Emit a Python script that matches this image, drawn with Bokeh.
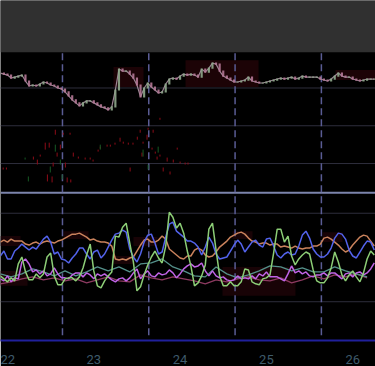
from bokeh.plotting import figure
from bokeh.models import Range1d, LinearAxis, FixedTicker, Span, BoxAnnotation
from bokeh.embed import file_html
from bokeh.resources import INLINE

# ---------------- data ----------------
# hourly samples starting at day 21 + 22h (x in days)
start_day = 22 - 2 / 24
step_day = 1 / 24

price = [57, 56, 55, 52, 53, 54, 55, 49, 44, 45, 44, 46, 48, 47, 45, 44, 42, 41, 38, 34,
         30, 27, 24, 27, 29, 29, 27, 25, 23, 22, 20, 23, 40, 61, 59, 59, 56, 52, 45, 33,
         42, 47, 43, 40, 37, 38, 46, 51, 52, 51, 54, 56, 55, 56, 55, 53, 61, 58, 62, 67,
         66, 59, 54, 52, 50, 48, 48, 49, 50, 53, 49, 48, 47, 47, 48, 49, 50, 51, 52, 51,
         52, 53, 51, 52, 54, 53, 53, 53, 53, 51, 50, 49, 51, 54, 57, 54, 53, 53, 51, 50,
         49, 50, 51, 51, 51]

osc_blue = [43, 48, 40, 40, 48, 51, 55, 52, 49, 52, 50, 55, 60, 63, 57, 45, 47, 40, 39, 36,
            41, 45, 51, 51, 45, 40, 47, 49, 41, 45, 52, 59, 65, 66, 69, 67, 50, 42, 37, 45,
            57, 64, 65, 56, 45, 47, 62, 75, 77, 68, 65, 62, 58, 58, 56, 52, 44, 52, 62, 56,
            45, 40, 41, 42, 48, 54, 59, 55, 47, 52, 57, 59, 54, 52, 60, 61, 53, 44, 41, 45,
            47, 44, 45, 53, 64, 68, 61, 50, 45, 42, 42, 45, 51, 61, 66, 65, 60, 49, 43, 41,
            47, 53, 58, 57, 49]

osc_orange = [57, 59, 57, 60, 58, 58, 58, 55, 54, 56, 57, 55, 57, 58, 57, 56, 58, 59, 61, 63,
              65, 65, 66, 64, 62, 59, 60, 58, 57, 57, 56, 53, 40, 39, 40, 39, 41, 42, 48, 54,
              59, 60, 57, 57, 59, 63, 60, 50, 47, 44, 41, 40, 43, 43, 49, 51, 49, 44, 42, 43,
              47, 52, 55, 58, 62, 64, 66, 67, 65, 61, 58, 57, 55, 56, 56, 54, 55, 55, 52, 53,
              52, 51, 53, 51, 50, 51, 51, 53, 53, 55, 61, 62, 60, 57, 54, 50, 47, 49, 54, 58,
              62, 64, 63, 58, 53]

osc_green = [23, 20, 17, 21, 18, 35, 42, 27, 19, 19, 25, 21, 25, 42, 46, 23, 14, 14, 20, 21,
             21, 18, 22, 31, 44, 55, 28, 13, 11, 18, 23, 27, 63, 62, 72, 76, 56, 37, 8, 12,
             24, 34, 42, 48, 41, 36, 53, 87, 82, 71, 76, 66, 48, 33, 13, 16, 23, 34, 70, 76,
             49, 23, 13, 13, 17, 13, 13, 17, 30, 29, 17, 15, 14, 20, 21, 24, 46, 70, 70, 57,
             63, 43, 34, 40, 44, 47, 45, 29, 18, 16, 16, 21, 31, 47, 37, 24, 18, 24, 28, 22,
             17, 26, 40, 48, 44]

osc_purple = [20, 18, 23, 17, 21, 20, 37, 40, 35, 27, 29, 25, 28, 23, 25, 31, 25, 21, 21, 20,
              24, 26, 26, 22, 26, 24, 20, 25, 23, 25, 22, 19, 17, 20, 21, 18, 21, 26, 30, 20,
              25, 28, 23, 22, 26, 24, 25, 29, 26, 21, 25, 30, 33, 35, 32, 33, 36, 28, 23, 28,
              23, 21, 22, 19, 18, 19, 23, 20, 21, 20, 23, 20, 25, 23, 27, 22, 22, 22, 20, 18,
              25, 33, 26, 28, 25, 27, 23, 22, 24, 24, 26, 23, 26, 26, 23, 20, 25, 26, 22, 26,
              27, 24, 26, 30, 36]

# 3-hourly samples
osc_teal = [25, 22, 25, 30, 27, 23, 28, 23, 27, 32, 28, 32, 27, 35, 36, 40, 32, 28, 23, 22,
            32, 25, 21, 24, 28, 33, 32, 28, 31, 27, 27, 32, 28, 25, 22]
osc_pink = [15, 17, 20, 22, 19, 21, 18, 20, 16, 19, 22, 18, 17, 24, 21, 19, 22, 20, 18, 15,
            19, 17, 20, 22, 19, 18, 21, 16, 19, 23, 20, 24, 22, 25, 21]

# small spread candles (hour offset, high, low)
spread_up_h = [0.8, 1.7, 9.2, 10.3, 11.1, 12.5, 13.1, 13.6, 14.4, 14.7, 15.3, 15.8, 16.7, 17.5,
               18.1, 18.6, 19.4, 19.6, 20.3, 21.7, 23.6, 25.0, 25.8, 27.2, 27.8, 29.7, 30.6,
               31.9, 33.3, 34.2, 35.6, 36.1, 36.9, 38.1, 38.9, 39.4, 39.7, 40.8, 41.1, 42.2,
               42.5, 43.1, 43.6, 44.4, 45.3, 46.4, 47.2, 48.1, 49.2, 50.0, 51.4, 52.2, 44.4]
spread_up_hi = [32, 32, 43, 40, 45, 57, 25, 57, 23, 37, 70, 47, 55, 67, 37, 22, 67, 20, 47, 43,
                42, 42, 40, 50, 53, 55, 55, 57, 62, 58, 57, 32, 57, 63, 70, 47, 58, 65, 72, 52,
                70, 48, 43, 45, 32, 42, 28, 40, 52, 38, 37, 37, 82]
spread_up_lo = [30, 30, 40, 35, 43, 50, 18, 52, 17, 33, 65, 43, 50, 65, 32, 17, 65, 17, 43, 41,
                40, 40, 38, 48, 51, 53, 53, 55, 58, 56, 55, 28, 55, 60, 67, 43, 56, 60, 70, 50,
                67, 46, 40, 43, 28, 38, 25, 37, 50, 36, 35, 35, 80]
spread_dn_h = [6.9, 7.8, 13.9, 15.3, 16.7, 17.2, 27.8, 39.7, 41.1, 43.9]
spread_dn_hi = [42, 23, 33, 55, 40, 25, 55, 50, 35, 53]
spread_dn_lo = [40, 18, 27, 48, 35, 20, 50, 43, 30, 47]

# shaded zones (day start, day end, panel top, panel bottom)
price_zone_x0 = [23.228, 24.063, 25.801]
price_zone_x1 = [23.576, 24.909, 26.264]
price_zone_top = [63, 70, 60]
price_zone_bot = [43, 43, 50]
osc_zone_x0 = [21.919, 22.649, 23.228, 23.460, 24.607, 25.650, 21.919, 24.491]
osc_zone_x1 = [22.151, 22.939, 23.460, 23.738, 24.839, 25.882, 22.232, 25.337]
osc_zone_top = [63, 68, 43, 62, 68, 67, 28, 32]
osc_zone_bot = [53, 60, 35, 53, 60, 57, 13, 3]

session_breaks = [22.637, 23.637, 24.637, 25.637]
day_ticks = [22, 23, 24, 25, 26]

# ---------------- figure ----------------
FRAME_H = 342
p = figure(width=375, height=366, output_backend="svg", toolbar_location=None,
           x_range=Range1d(21.919, 26.264), y_range=Range1d(FRAME_H, 0),
           y_axis_location=None, x_axis_location=None,
           min_border_left=0, min_border_right=0, min_border_top=0, min_border_bottom=24)
p.background_fill_color = "#000000"
p.border_fill_color = "#000000"
p.outline_line_color = None
p.xgrid.visible = False
p.ygrid.visible = False

p.extra_y_ranges = {
    "price": Range1d(130 - FRAME_H, 130),
    "spread": Range1d(200 - FRAME_H, 200),
    "osc": Range1d(300 - FRAME_H, 300),
}

# header band
p.add_layout(BoxAnnotation(top=0, bottom=52, fill_color="#303030", fill_alpha=1.0,
                           line_color=None, level="underlay"))

# shaded zones (very faint)
p.quad(left=price_zone_x0, right=price_zone_x1, top=price_zone_top, bottom=price_zone_bot,
       y_range_name="price", fill_color="#1c0306", line_color=None, level="underlay")
p.quad(left=osc_zone_x0, right=osc_zone_x1, top=osc_zone_top, bottom=osc_zone_bot,
       y_range_name="osc", fill_color="#180306", line_color=None, level="underlay")

# horizontal guides
for loc in [88, 126, 164, 214, 303]:
    p.add_layout(Span(location=loc, dimension="width", line_color="#2e2e3c",
                      line_width=1, level="underlay"))
p.add_layout(Span(location=193.5, dimension="width", line_color="#7c84ac",
                  line_width=2, level="underlay"))

# session breaks
p.segment(x0=session_breaks, x1=session_breaks, y0=[53] * 4, y1=[340] * 4,
          line_color="#5a5c94", line_width=1.5, line_dash="7 4")

# spread candles
up_x = [start_day + h * step_day for h in spread_up_h]
dn_x = [start_day + h * step_day for h in spread_dn_h]
p.segment(x0=up_x, x1=up_x, y0=spread_up_hi, y1=spread_up_lo, y_range_name="spread",
          line_color="#8e0c18", line_width=1)
p.segment(x0=dn_x, x1=dn_x, y0=spread_dn_hi, y1=spread_dn_lo, y_range_name="spread",
          line_color="#165a24", line_width=1)

# price candles
t = [start_day + i * step_day for i in range(len(price))]
p.line(t, price, y_range_name="price", line_color="#9c8494", line_width=1.2)
c_x, c_top, c_bot, c_col = [], [], [], []
for i in range(1, len(price)):
    o, c = price[i - 1], price[i]
    c_x.append(t[i])
    c_top.append(max(o, c) + 0.6)
    c_bot.append(min(o, c) - 0.6)
    c_col.append("#8fa88c" if c >= o else "#b57896")
p.vbar(x=c_x, width=0.6 * step_day, top=c_top, bottom=c_bot, y_range_name="price",
       fill_color=c_col, line_color=None, fill_alpha=0.9)

# oscillators
t3 = [start_day + 3 * i * step_day for i in range(len(osc_teal))]
p.line(t3, osc_pink, y_range_name="osc", line_color="#8c3a60", line_width=1.3)
p.line(t3, osc_teal, y_range_name="osc", line_color="#54908a", line_width=1.3)
p.line(t, osc_orange, y_range_name="osc", line_color="#c9825c", line_width=1.5)
p.line(t, osc_blue, y_range_name="osc", line_color="#5363ec", line_width=1.5)
p.line(t, osc_purple, y_range_name="osc", line_color="#c064e6", line_width=1.5)
p.line(t, osc_green, y_range_name="osc", line_color="#8ccd76", line_width=1.5)

# time axis
ax = LinearAxis(ticker=FixedTicker(ticks=day_ticks))
ax.axis_line_color = "#20209c"
ax.axis_line_width = 2
ax.major_tick_line_color = None
ax.minor_tick_line_color = None
ax.major_label_text_color = "#3e5a6a"
ax.major_label_text_font = "Roboto"
ax.major_label_text_font_size = "13px"
ax.major_label_standoff = 8
p.add_layout(ax, "below")

open("out.html", "w").write(file_html(p, INLINE))
